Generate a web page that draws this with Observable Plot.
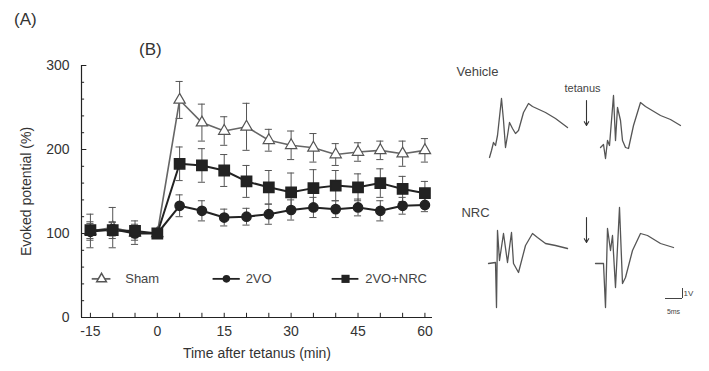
<!DOCTYPE html>
<html><head><meta charset="utf-8">
<script src="https://cdn.jsdelivr.net/npm/d3@7"></script>
<script src="https://cdn.jsdelivr.net/npm/@observablehq/plot@0.6"></script>
<style>
body{margin:0;background:#fff;}
#fig{position:relative;width:709px;height:371px;font-family:"Liberation Sans",Arial,sans-serif;color:#333;overflow:hidden;}
#fig svg{position:absolute;top:0;}
.lab{position:absolute;font-size:17px;color:#333;}
</style></head><body><div id="fig"><div class="lab" style="left:14px;top:10px">(A)</div><div class="lab" style="left:139px;top:40px">(B)</div></div>
<script>
// ---- data ----
const minutes = [-15,-10,-5,0,5,10,15,20,25,30,35,40,45,50,55,60];
const sham    = [103,107,101,100,259,232,222,227,211,205,202,194,197,199,195,199];
const shamSE  = [20,24,14,0,22,22,17,28,13,17,17,13,11,11,15,14];
const vo      = [102,105,100,100,133,127,119,120,123,128,131,129,131,127,133,134];
const voSE    = [10,8,8,0,13,12,10,10,12,12,12,10,10,12,10,8];
const nrc     = [104,104,103,100,183,181,175,162,155,149,154,157,155,160,153,148];
const nrcSE   = [10,10,8,0,20,20,19,19,20,23,22,18,16,17,15,14];
const groups  = ["Sham","2VO","2VO+NRC"];
const xTickLabels = [-15,0,15,30,45,60];
const yTickLabels = [0,100,200,300];

// field-potential traces: time (ms) and voltage (mV, arbitrary units)
const vehPreT  = [0,0.4,0.8,1.2,1.6,2.4,2.8,3.2,3.6,4.0,4.6,5.2,5.8,6.8,7.8,8.6,11.2,13.2,15.6];
const vehPreV  = [-1.0,-0.3,0.5,0.2,1.2,4.9,2.7,0,1.2,2.5,1.9,1.4,1.7,3.5,4.4,4.1,3.5,2.9,2.0];
const vehPostT = [0,0.6,1.0,1.4,1.8,2.6,3.0,3.4,4.0,4.4,5.0,5.6,6.6,8.0,9.0,12.0,14.0,16.0];
const vehPostV = [0,0.3,-1.1,0.7,0.2,5.2,0.7,4.0,2.7,0.7,0,-0.1,2.2,4.5,4.1,3.2,2.8,2.2];
const nrcPreT  = [0,1.4,1.6,1.8,2.2,3.0,3.8,4.6,5.0,6.0,7.4,8.8,9.8,11.4,13.4,15.8];
const nrcPreV  = [0,0.1,-4.4,3.3,0.3,3.0,0.1,3.1,0,-0.9,1.8,3.0,2.6,2.0,1.8,1.5];
const nrcPostT = [0,1.6,2.0,2.4,3.0,3.4,4.0,4.8,5.4,6.0,7.4,9.0,10.4,13.0,15.6];
const nrcPostV = [0,0,-4.4,3.5,1.3,2.8,-2.4,5.6,-2.0,-1.4,1.3,3.0,2.8,2.0,1.6];

// ---- build tables ----
const rows = minutes.flatMap((m,i)=>[
  {group:"Sham",min:m,v:sham[i],se:shamSE[i]},
  {group:"2VO",min:m,v:vo[i],se:voSE[i]},
  {group:"2VO+NRC",min:m,v:nrc[i],se:nrcSE[i]}
]);
const byG = g => rows.filter(d=>d.group===g);
const ink = "#222", grey="#555";

// legend layout (inside plot)
const legend = [
  {label:groups[0], x:-12.5, x1:-14.6, x2:-10.4, tx:-7.2},
  {label:groups[1], x:15.5, x1:12.5, x2:18.6, tx:19.8},
  {label:groups[2], x:42.2, x1:39.2, x2:45.2, tx:46.6}
];
const legY = 46;
const X0 = -17;

const main = Plot.plot({
  width:450, height:371,
  marginLeft:81, marginRight:18, marginTop:65, marginBottom:54,
  style:{fontFamily:'"Liberation Sans",Arial,sans-serif', fontSize:"13px", color:"#333", background:"transparent"},
  x:{domain:[X0,61.7]},
  y:{domain:[0,300]},
  marks:[
    Plot.ruleX([X0],{stroke:ink,strokeWidth:1.2}),
    Plot.ruleY([0],{stroke:ink,strokeWidth:1.2}),
    // inward ticks
    Plot.ruleX(d3.range(-15,61,5),{x:d=>d, y1:0, y2:5, stroke:ink}),
    Plot.ruleY(d3.range(0,301,20),{y:d=>d, x1:X0, x2:X0+0.7, stroke:ink}),
    Plot.ruleY(yTickLabels,{y:d=>d, x1:X0, x2:X0+1.2, stroke:ink}),
    Plot.axisX({ticks:xTickLabels, tickSize:0, tickPadding:9, fontSize:14, label:"Time after tetanus (min)", labelAnchor:"center", labelArrow:"none", labelOffset:40, tickFormat:d=>d}),
    Plot.axisY({ticks:yTickLabels, tickSize:0, tickPadding:12, fontSize:14, label:"Evoked potential (%)", labelAnchor:"center", labelArrow:"none", labelOffset:60}),
    // error bars
    Plot.ruleX(rows,{x:"min", y1:d=>d.v-d.se, y2:d=>d.v+d.se, stroke:grey, strokeWidth:1}),
    Plot.ruleY(rows,{y:d=>d.v+d.se, x1:d=>d.min-0.8, x2:d=>d.min+0.8, stroke:grey, strokeWidth:1}),
    Plot.ruleY(rows,{y:d=>d.v-d.se, x1:d=>d.min-0.8, x2:d=>d.min+0.8, stroke:grey, strokeWidth:1}),
    // lines
    Plot.line(byG("Sham"),{x:"min",y:"v",stroke:"#666",strokeWidth:1.6}),
    Plot.line(byG("2VO+NRC"),{x:"min",y:"v",stroke:ink,strokeWidth:2}),
    Plot.line(byG("2VO"),{x:"min",y:"v",stroke:ink,strokeWidth:2}),
    // markers
    Plot.dot(byG("Sham"),{x:"min",y:"v",symbol:"triangle",r:4.2,fill:"white",stroke:"#555",strokeWidth:1.2}),
    Plot.dot(byG("2VO"),{x:"min",y:"v",symbol:"circle",r:4.6,fill:ink,stroke:ink}),
    Plot.dot(byG("2VO+NRC"),{x:"min",y:"v",symbol:"square",r:5.8,fill:ink,stroke:ink}),
    // legend
    Plot.ruleY(legend,{y:legY, x1:"x1", x2:"x2", stroke:(d,i)=>i===0?"#666":ink, strokeWidth:1.8}),
    Plot.dot(legend.slice(0,1),{x:"x",y:legY,symbol:"triangle",r:3.6,fill:"white",stroke:"#555"}),
    Plot.dot(legend.slice(1,2),{x:"x",y:legY,symbol:"circle",r:3.8,fill:ink}),
    Plot.dot(legend.slice(2,3),{x:"x",y:legY,symbol:"square",r:4.6,fill:ink}),
    Plot.text(legend,{x:"tx",y:legY,text:"label",textAnchor:"start",fontSize:13,fill:"#444"})
  ]
});
main.style.left = "0px";

// ---- traces panel ----
const traceLayout = [
  {t:vehPreT, v:vehPreV, ox:7.8, oy:22.4},
  {t:vehPostT, v:vehPostV, ox:30.0, oy:22.4},
  {t:nrcPreT, v:nrcPreV, ox:7.6, oy:10.8},
  {t:nrcPostT, v:nrcPostV, ox:29.0, oy:10.8}
];
const tracePts = traceLayout.flatMap((tr,k)=>tr.t.map((t,i)=>({k, x:tr.ox+t, y:tr.oy+tr.v[i]})));
const arrows = [{x:27.2,y1:27.1,y2:24.6},{x:27.2,y1:15.4,y2:12.9}];
const labels = [
  {x:5.4,y:30.0,text:"Vehicle",size:13,anchor:"start"},
  {x:5.0,y:15.9,text:"NRC",size:13,anchor:"start"},
  {x:26.4,y:28.3,text:"tetanus",size:11,anchor:"middle"},
  {x:47.6,y:7.8,text:"1V",size:8,anchor:"start"},
  {x:44.6,y:6.0,text:"5ms",size:7,anchor:"middle"}
];
const scaleBar = [{x1:43.0,x2:46.4,y:7.3}];

const traces = Plot.plot({
  width:259, height:371, margin:0,
  style:{fontFamily:'"Liberation Sans",Arial,sans-serif', background:"transparent"},
  x:{domain:[0,51.8], axis:null},
  y:{domain:[0,37.1], axis:null},
  marks:[
    Plot.line(tracePts,{x:"x",y:"y",z:"k",stroke:"#555",strokeWidth:1.3,curve:"linear"}),
    Plot.arrow(arrows,{x1:"x",x2:"x",y1:"y1",y2:"y2",stroke:"#333",strokeWidth:1.1,headLength:6}),
    Plot.ruleY(scaleBar,{y:"y",x1:"x1",x2:"x2",stroke:"#444",strokeWidth:1}),
    Plot.ruleX(scaleBar,{x:"x2",y1:"y",y2:d=>d.y+1.0,stroke:"#444",strokeWidth:1}),
    Plot.text(labels,{x:"x",y:"y",text:"text",fontSize:d=>d.size,textAnchor:"anchor",fill:"#444"})
  ]
});
traces.style.left = "450px";

const fig = document.getElementById("fig");
fig.appendChild(main);
fig.appendChild(traces);
</script>
</body></html>
